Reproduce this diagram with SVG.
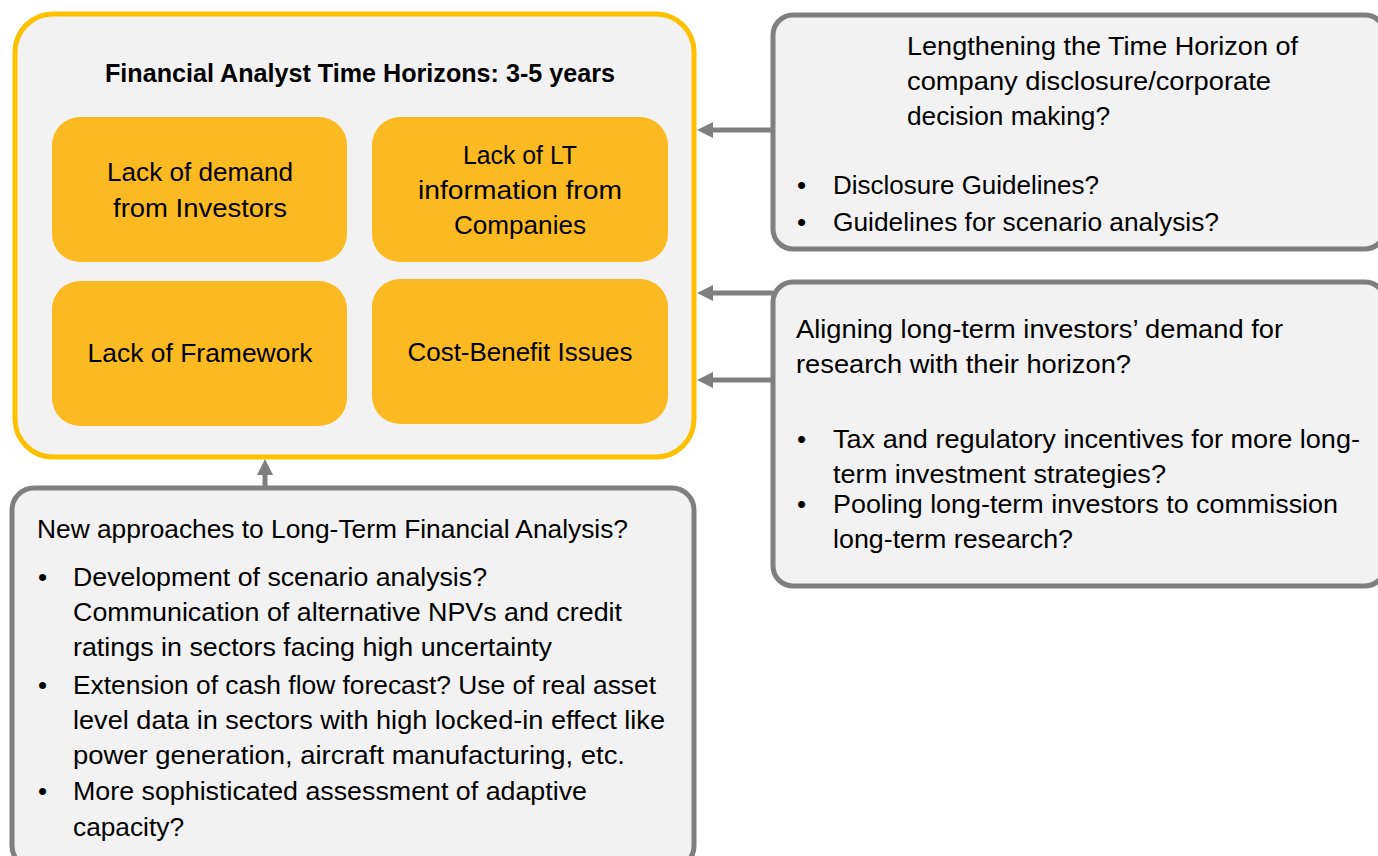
<svg xmlns="http://www.w3.org/2000/svg" width="1378" height="856" viewBox="0 0 1378 856">
<defs>
<style>
.t{font-family:"Liberation Sans",Arial,sans-serif;font-size:26px;fill:#000}
.b{font-family:"Liberation Sans",Arial,sans-serif;font-size:25px;font-weight:bold;fill:#000}
.c{text-anchor:middle}
.gray{fill:#F2F2F2;stroke:#7F7F7F;stroke-width:5}
.cell{fill:#FBBA22;stroke:none}
.conn{stroke:#7F7F7F;stroke-width:5;fill:none;marker-end:url(#ah)}
</style>
<marker id="ah" viewBox="0 0 16 16" refX="8" refY="8" markerWidth="16" markerHeight="16" orient="auto" markerUnits="userSpaceOnUse">
<path d="M0,0 L16,8 L0,16 z" fill="#7F7F7F"/>
</marker>
</defs>
<rect width="1378" height="856" fill="#FFFFFF"/>

<g id="connectors">
<line class="conn" x1="773" y1="130" x2="705" y2="130"/>
<line class="conn" x1="773" y1="293" x2="705" y2="293"/>
<line class="conn" x1="773" y1="380" x2="705" y2="380"/>
<line class="conn" x1="265" y1="488" x2="265" y2="467"/>
</g>

<g id="main">
<rect x="15" y="14" width="679" height="443" rx="38" fill="#F2F2F2" stroke="#FFC000" stroke-width="5"/>
<text class="b c" x="360" y="82" textLength="510" lengthAdjust="spacingAndGlyphs">Financial Analyst Time Horizons: 3-5 years</text>
</g>

<g id="cell-demand">
<rect class="cell" x="52" y="117" width="295" height="145" rx="28"/>
<text class="t c" x="200" y="181" textLength="186" lengthAdjust="spacingAndGlyphs">Lack of demand</text>
<text class="t c" x="200" y="217" textLength="174" lengthAdjust="spacingAndGlyphs">from Investors</text>
</g>
<g id="cell-info">
<rect class="cell" x="372" y="117" width="296" height="145" rx="28"/>
<text class="t c" x="520" y="164" textLength="114" lengthAdjust="spacingAndGlyphs">Lack of LT</text>
<text class="t c" x="520" y="199" textLength="204" lengthAdjust="spacingAndGlyphs">information from</text>
<text class="t c" x="520" y="234" textLength="132" lengthAdjust="spacingAndGlyphs">Companies</text>
</g>
<g id="cell-framework">
<rect class="cell" x="52" y="281" width="295" height="145" rx="28"/>
<text class="t c" x="200" y="362" textLength="225" lengthAdjust="spacingAndGlyphs">Lack of Framework</text>
</g>
<g id="cell-cost">
<rect class="cell" x="372" y="279" width="296" height="145" rx="28"/>
<text class="t c" x="520" y="361" textLength="225" lengthAdjust="spacingAndGlyphs">Cost-Benefit Issues</text>
</g>

<g id="box-disclosure">
<rect class="gray" x="773" y="15" width="612" height="234" rx="20"/>
<text class="t" x="907" y="55" textLength="391" lengthAdjust="spacingAndGlyphs">Lengthening the Time Horizon of</text>
<text class="t" x="907" y="90" textLength="364" lengthAdjust="spacingAndGlyphs">company disclosure/corporate</text>
<text class="t" x="907" y="125" textLength="203" lengthAdjust="spacingAndGlyphs">decision making?</text>
<text class="t" x="797" y="194">•</text>
<text class="t" x="833" y="194" textLength="266" lengthAdjust="spacingAndGlyphs">Disclosure Guidelines?</text>
<text class="t" x="797" y="231">•</text>
<text class="t" x="833" y="231" textLength="386" lengthAdjust="spacingAndGlyphs">Guidelines for scenario analysis?</text>
</g>

<g id="box-investors">
<rect class="gray" x="773" y="282" width="612" height="304" rx="20"/>
<text class="t" x="796" y="338" textLength="487" lengthAdjust="spacingAndGlyphs">Aligning long-term investors’ demand for</text>
<text class="t" x="796" y="373" textLength="335" lengthAdjust="spacingAndGlyphs">research with their horizon?</text>
<text class="t" x="797" y="448">•</text>
<text class="t" x="833" y="448" textLength="527" lengthAdjust="spacingAndGlyphs">Tax and regulatory incentives for more long-</text>
<text class="t" x="833" y="483" textLength="333" lengthAdjust="spacingAndGlyphs">term investment strategies?</text>
<text class="t" x="797" y="513">•</text>
<text class="t" x="833" y="513" textLength="505" lengthAdjust="spacingAndGlyphs">Pooling long-term investors to commission</text>
<text class="t" x="833" y="548" textLength="240" lengthAdjust="spacingAndGlyphs">long-term research?</text>
</g>

<g id="box-approaches">
<rect class="gray" x="12" y="488" width="682" height="380" rx="22"/>
<text class="t" x="37" y="538" textLength="591" lengthAdjust="spacingAndGlyphs">New approaches to Long-Term Financial Analysis?</text>
<text class="t" x="38" y="586">•</text>
<text class="t" x="73" y="586" textLength="414" lengthAdjust="spacingAndGlyphs">Development of scenario analysis?</text>
<text class="t" x="73" y="621" textLength="549" lengthAdjust="spacingAndGlyphs">Communication of alternative NPVs and credit</text>
<text class="t" x="73" y="656" textLength="479" lengthAdjust="spacingAndGlyphs">ratings in sectors facing high uncertainty</text>
<text class="t" x="38" y="694">•</text>
<text class="t" x="73" y="694" textLength="583" lengthAdjust="spacingAndGlyphs">Extension of cash flow forecast? Use of real asset</text>
<text class="t" x="73" y="729" textLength="592" lengthAdjust="spacingAndGlyphs">level data in sectors with high locked-in effect like</text>
<text class="t" x="73" y="764" textLength="552" lengthAdjust="spacingAndGlyphs">power generation, aircraft manufacturing, etc.</text>
<text class="t" x="38" y="800">•</text>
<text class="t" x="73" y="800" textLength="514" lengthAdjust="spacingAndGlyphs">More sophisticated assessment of adaptive</text>
<text class="t" x="73" y="836" textLength="111" lengthAdjust="spacingAndGlyphs">capacity?</text>
</g>
</svg>
